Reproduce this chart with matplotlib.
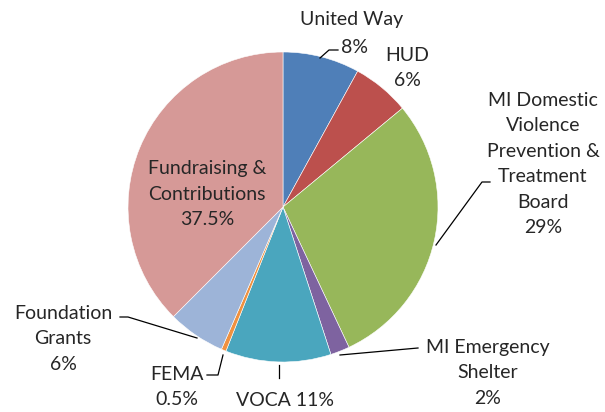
import matplotlib.pyplot as plt

plt.rcParams['font.family'] = ['Lato', 'DejaVu Sans']

# data
sources = ['United Way', 'HUD', 'MI Domestic Violence Prevention & Treatment Board',
           'MI Emergency Shelter', 'VOCA', 'FEMA', 'Foundation Grants',
           'Fundraising & Contributions']
shares = [8, 6, 29, 2, 11, 0.5, 6, 37.5]
colors = ['#4F7FB8', '#BC504D', '#97B75A', '#7E63A0', '#4AA6BE', '#F0913F',
          '#9DB4D8', '#D69997']

W, H = 605, 412
cx, cy, r = 283, 412 - 207, 155

fig = plt.figure(figsize=(W / 100, H / 100), dpi=100)
ax = fig.add_axes([0, 0, 1, 1])
ax.pie(shares, colors=colors, startangle=90, counterclock=False,
       center=(cx, cy), radius=r, frame=True,
       wedgeprops=dict(edgecolor='white', linewidth=0.4))
ax.set_xlim(0, W)
ax.set_ylim(0, H)
ax.set_aspect('equal')
ax.axis('off')

fs = 14
tc = '#262626'

def txt(x, y, s):
    ax.text(x, H - y, s, ha='center', va='center', fontsize=fs, color=tc,
            linespacing=1.6)

def leader(pts):
    xs = [p[0] for p in pts]
    ys = [H - p[1] for p in pts]
    ax.plot(xs, ys, color='black', lw=0.9)

txt(352, 19, 'United Way')
txt(354, 47, '8%')
leader([(320, 58), (329, 50), (338, 50)])

txt(407, 68, 'HUD\n6%')

txt(543, 164, 'MI Domestic\nViolence\nPrevention &\nTreatment\nBoard\n29%')
leader([(436, 245), (482, 182), (490, 182)])

txt(488, 373, 'MI Emergency\nShelter\n2%')
leader([(340, 355), (418, 348)])

txt(285, 400, 'VOCA 11%')
leader([(279, 365), (279, 378)])

txt(177, 387, 'FEMA\n0.5%')
leader([(223, 355), (218, 375), (207, 375)])

txt(63, 339, 'Foundation\nGrants\n6%')
leader([(197, 338), (128, 317), (120, 317)])

txt(207, 194, 'Fundraising &\nContributions\n37.5%')

fig.savefig('out.png', dpi=100)
